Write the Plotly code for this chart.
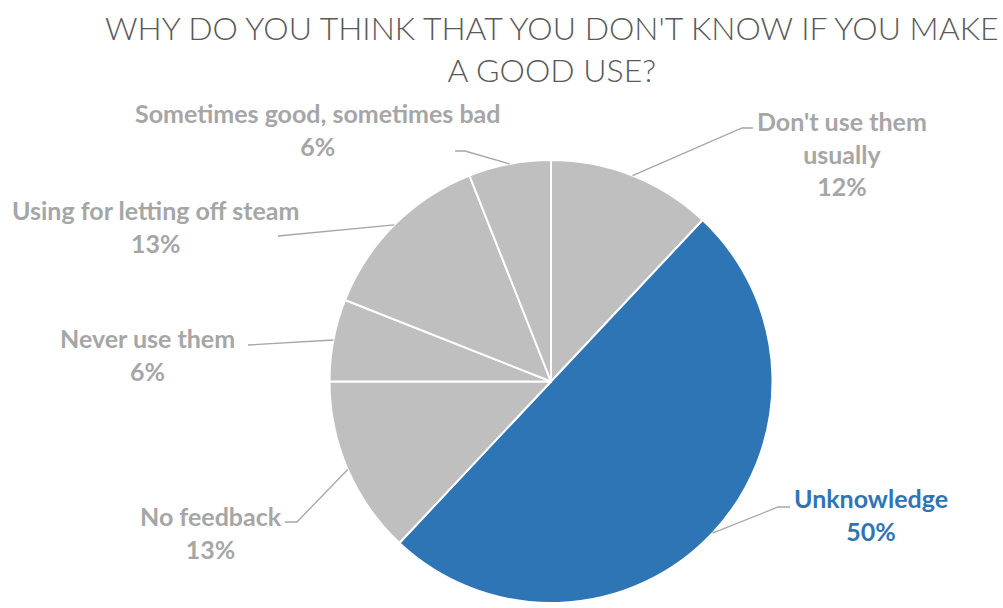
import math
import plotly.graph_objects as go

# Survey answers, clockwise from 12 o'clock
categories = [
    "Don't use them usually",
    "Unknowledge",
    "No feedback",
    "Never use them",
    "Using for letting off steam",
    "Sometimes good, sometimes bad",
]
label_lines = [
    "Don't use them<br>usually",
    "Unknowledge",
    "No feedback",
    "Never use them",
    "Using for letting off steam",
    "Sometimes good, sometimes bad",
]
percent_values = [12, 50, 13, 6, 13, 6]

GRAY = "#BFBFBF"
BLUE = "#2E75B6"
LABEL_GRAY = "#A6A6A6"
slice_colors = [GRAY, BLUE, GRAY, GRAY, GRAY, GRAY]
label_colors = [LABEL_GRAY, BLUE, LABEL_GRAY, LABEL_GRAY, LABEL_GRAY, LABEL_GRAY]

W, H = 1003, 608

# Pie placement (pixels)
CX, CY, R = 551, 381.5, 221.5


def px(x):
    return x / W


def py(y):
    return 1 - y / H


# Label block centres and leader-line elbows (pixels)
label_pos = [(842, 153), (871, 514), (211, 532), (147, 354), (155, 226), (317, 129)]
elbows = [
    [(742, 128), (753, 128)],
    [(778, 507), (790, 507)],
    [(297, 522), (285, 522)],
    [(248, 345)],
    [(278, 236)],
    [(465, 151), (455, 151)],
]

fig = go.Figure(
    go.Pie(
        labels=categories,
        values=percent_values,
        sort=False,
        direction="clockwise",
        rotation=0,
        textinfo="none",
        hoverinfo="label+percent",
        marker=dict(colors=slice_colors, line=dict(color="white", width=2)),
        domain=dict(x=[px(CX - R), px(CX + R)], y=[py(CY + R), py(CY - R)]),
        showlegend=False,
    )
)

total = sum(percent_values)
shapes = []
annotations = []
cum = 0
for i, v in enumerate(percent_values):
    mid = (cum + v / 2) / total * 2 * math.pi
    cum += v
    ex = CX + R * math.sin(mid)
    ey = CY - R * math.cos(mid)
    pts = [(ex, ey)] + elbows[i]
    path = "M " + " L ".join(f"{px(x):.5f},{py(y):.5f}" for x, y in pts)
    shapes.append(
        dict(type="path", xref="paper", yref="paper", path=path,
             line=dict(color=LABEL_GRAY, width=1.3))
    )
    lx, ly = label_pos[i]
    annotations.append(
        dict(
            x=px(lx), y=py(ly), xref="paper", yref="paper",
            xanchor="center", yanchor="middle", showarrow=False,
            align="center",
            text=f"<b>{label_lines[i]}<br>{v}%</b>",
            font=dict(family="Lato", size=25, color=label_colors[i]),
        )
    )

annotations.append(
    dict(
        x=px(552), y=py(49), xref="paper", yref="paper",
        xanchor="center", yanchor="middle", showarrow=False, align="center",
        text="WHY DO YOU THINK THAT YOU DON'T KNOW IF YOU MAKE<br>A GOOD USE?",
        font=dict(family="Lato", size=32, color="#595959", weight=300),
    )
)

fig.update_layout(
    width=W,
    height=H,
    margin=dict(l=0, r=0, t=0, b=0),
    paper_bgcolor="white",
    plot_bgcolor="white",
    shapes=shapes,
    annotations=annotations,
)

fig.write_html("out.html")
